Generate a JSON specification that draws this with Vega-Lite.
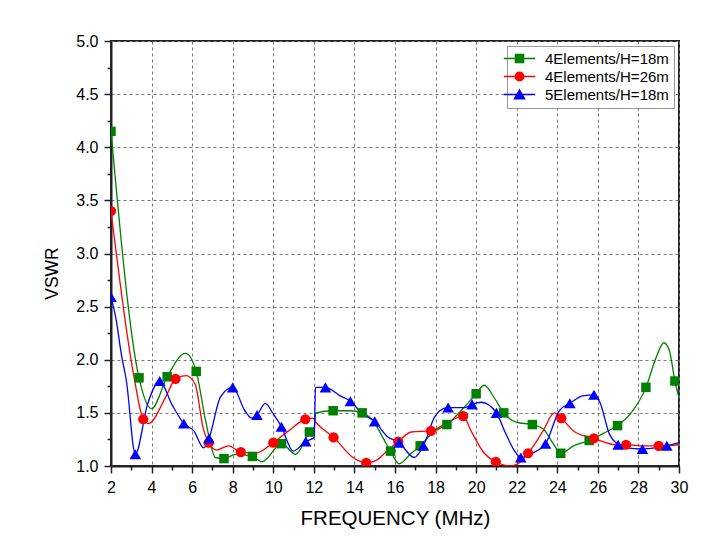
{
  "$schema": "https://vega.github.io/schema/vega-lite/v6.json",
  "width": 568,
  "height": 425,
  "autosize": {"type": "none"},
  "padding": {"left": 111, "top": 41, "right": 45, "bottom": 91},
  "data": {
    "values": [
      {"s": "4Elements/H=18m", "f": 2.0, "v": 4.15, "mk": 1},
      {"s": "4Elements/H=18m", "f": 3.38, "v": 1.83, "mk": 1},
      {"s": "4Elements/H=18m", "f": 4.0, "v": 1.54, "mk": 0},
      {"s": "4Elements/H=18m", "f": 4.77, "v": 1.84, "mk": 1},
      {"s": "4Elements/H=18m", "f": 5.67, "v": 2.06, "mk": 0},
      {"s": "4Elements/H=18m", "f": 6.2, "v": 1.89, "mk": 1},
      {"s": "4Elements/H=18m", "f": 6.66, "v": 1.43, "mk": 0},
      {"s": "4Elements/H=18m", "f": 7.15, "v": 1.08, "mk": 0},
      {"s": "4Elements/H=18m", "f": 7.57, "v": 1.07, "mk": 1},
      {"s": "4Elements/H=18m", "f": 8.15, "v": 1.11, "mk": 0},
      {"s": "4Elements/H=18m", "f": 8.97, "v": 1.09, "mk": 1},
      {"s": "4Elements/H=18m", "f": 9.45, "v": 1.04, "mk": 0},
      {"s": "4Elements/H=18m", "f": 10.41, "v": 1.21, "mk": 1},
      {"s": "4Elements/H=18m", "f": 11.1, "v": 1.11, "mk": 0},
      {"s": "4Elements/H=18m", "f": 11.78, "v": 1.32, "mk": 1},
      {"s": "4Elements/H=18m", "f": 12.02, "v": 1.37, "mk": 0},
      {"s": "4Elements/H=18m", "f": 12.1, "v": 1.5, "mk": 0},
      {"s": "4Elements/H=18m", "f": 12.95, "v": 1.52, "mk": 1},
      {"s": "4Elements/H=18m", "f": 13.8, "v": 1.52, "mk": 0},
      {"s": "4Elements/H=18m", "f": 14.38, "v": 1.5, "mk": 1},
      {"s": "4Elements/H=18m", "f": 14.9, "v": 1.43, "mk": 0},
      {"s": "4Elements/H=18m", "f": 15.45, "v": 1.25, "mk": 0},
      {"s": "4Elements/H=18m", "f": 15.78, "v": 1.14, "mk": 1},
      {"s": "4Elements/H=18m", "f": 16.2, "v": 1.02, "mk": 0},
      {"s": "4Elements/H=18m", "f": 16.8, "v": 1.12, "mk": 0},
      {"s": "4Elements/H=18m", "f": 17.24, "v": 1.19, "mk": 1},
      {"s": "4Elements/H=18m", "f": 17.9, "v": 1.32, "mk": 0},
      {"s": "4Elements/H=18m", "f": 18.56, "v": 1.39, "mk": 1},
      {"s": "4Elements/H=18m", "f": 19.4, "v": 1.55, "mk": 0},
      {"s": "4Elements/H=18m", "f": 20.0, "v": 1.68, "mk": 1},
      {"s": "4Elements/H=18m", "f": 20.4, "v": 1.76, "mk": 0},
      {"s": "4Elements/H=18m", "f": 20.9, "v": 1.64, "mk": 0},
      {"s": "4Elements/H=18m", "f": 21.36, "v": 1.5, "mk": 1},
      {"s": "4Elements/H=18m", "f": 22.0, "v": 1.41, "mk": 0},
      {"s": "4Elements/H=18m", "f": 22.77, "v": 1.39, "mk": 1},
      {"s": "4Elements/H=18m", "f": 23.3, "v": 1.35, "mk": 0},
      {"s": "4Elements/H=18m", "f": 23.8, "v": 1.21, "mk": 0},
      {"s": "4Elements/H=18m", "f": 24.17, "v": 1.12, "mk": 1},
      {"s": "4Elements/H=18m", "f": 24.8, "v": 1.19, "mk": 0},
      {"s": "4Elements/H=18m", "f": 25.57, "v": 1.24, "mk": 1},
      {"s": "4Elements/H=18m", "f": 26.4, "v": 1.32, "mk": 0},
      {"s": "4Elements/H=18m", "f": 26.97, "v": 1.38, "mk": 1},
      {"s": "4Elements/H=18m", "f": 27.6, "v": 1.49, "mk": 0},
      {"s": "4Elements/H=18m", "f": 28.37, "v": 1.74, "mk": 1},
      {"s": "4Elements/H=18m", "f": 28.87, "v": 2.02, "mk": 0},
      {"s": "4Elements/H=18m", "f": 29.25, "v": 2.16, "mk": 0},
      {"s": "4Elements/H=18m", "f": 29.52, "v": 2.09, "mk": 0},
      {"s": "4Elements/H=18m", "f": 29.8, "v": 1.8, "mk": 1},
      {"s": "4Elements/H=18m", "f": 30.0, "v": 1.64, "mk": 0},

      {"s": "4Elements/H=26m", "f": 2.0, "v": 3.4, "mk": 1},
      {"s": "4Elements/H=26m", "f": 3.15, "v": 1.82, "mk": 0},
      {"s": "4Elements/H=26m", "f": 3.59, "v": 1.44, "mk": 1},
      {"s": "4Elements/H=26m", "f": 3.85, "v": 1.4, "mk": 0},
      {"s": "4Elements/H=26m", "f": 4.7, "v": 1.65, "mk": 0},
      {"s": "4Elements/H=26m", "f": 5.18, "v": 1.82, "mk": 1},
      {"s": "4Elements/H=26m", "f": 5.7, "v": 1.85, "mk": 0},
      {"s": "4Elements/H=26m", "f": 6.15, "v": 1.77, "mk": 0},
      {"s": "4Elements/H=26m", "f": 6.55, "v": 1.35, "mk": 0},
      {"s": "4Elements/H=26m", "f": 6.82, "v": 1.22, "mk": 1},
      {"s": "4Elements/H=26m", "f": 7.2, "v": 1.15, "mk": 0},
      {"s": "4Elements/H=26m", "f": 7.8, "v": 1.19, "mk": 0},
      {"s": "4Elements/H=26m", "f": 8.4, "v": 1.13, "mk": 1},
      {"s": "4Elements/H=26m", "f": 9.1, "v": 1.12, "mk": 0},
      {"s": "4Elements/H=26m", "f": 10.0, "v": 1.22, "mk": 1},
      {"s": "4Elements/H=26m", "f": 10.75, "v": 1.33, "mk": 0},
      {"s": "4Elements/H=26m", "f": 11.58, "v": 1.44, "mk": 1},
      {"s": "4Elements/H=26m", "f": 11.95, "v": 1.45, "mk": 0},
      {"s": "4Elements/H=26m", "f": 12.15, "v": 1.4, "mk": 0},
      {"s": "4Elements/H=26m", "f": 12.97, "v": 1.27, "mk": 1},
      {"s": "4Elements/H=26m", "f": 14.0, "v": 1.07, "mk": 0},
      {"s": "4Elements/H=26m", "f": 14.58, "v": 1.03, "mk": 1},
      {"s": "4Elements/H=26m", "f": 15.05, "v": 1.05, "mk": 0},
      {"s": "4Elements/H=26m", "f": 15.6, "v": 1.14, "mk": 0},
      {"s": "4Elements/H=26m", "f": 16.16, "v": 1.23, "mk": 1},
      {"s": "4Elements/H=26m", "f": 16.8, "v": 1.32, "mk": 0},
      {"s": "4Elements/H=26m", "f": 17.77, "v": 1.33, "mk": 1},
      {"s": "4Elements/H=26m", "f": 18.5, "v": 1.4, "mk": 0},
      {"s": "4Elements/H=26m", "f": 19.36, "v": 1.47, "mk": 1},
      {"s": "4Elements/H=26m", "f": 19.75, "v": 1.33, "mk": 0},
      {"s": "4Elements/H=26m", "f": 20.4, "v": 1.12, "mk": 0},
      {"s": "4Elements/H=26m", "f": 20.97, "v": 1.04, "mk": 1},
      {"s": "4Elements/H=26m", "f": 21.7, "v": 1.0, "mk": 0},
      {"s": "4Elements/H=26m", "f": 22.05, "v": 1.02, "mk": 0},
      {"s": "4Elements/H=26m", "f": 22.56, "v": 1.12, "mk": 1},
      {"s": "4Elements/H=26m", "f": 23.3, "v": 1.33, "mk": 0},
      {"s": "4Elements/H=26m", "f": 23.85, "v": 1.5, "mk": 0},
      {"s": "4Elements/H=26m", "f": 24.2, "v": 1.45, "mk": 1},
      {"s": "4Elements/H=26m", "f": 24.8, "v": 1.33, "mk": 0},
      {"s": "4Elements/H=26m", "f": 25.8, "v": 1.26, "mk": 1},
      {"s": "4Elements/H=26m", "f": 26.9, "v": 1.2, "mk": 0},
      {"s": "4Elements/H=26m", "f": 27.39, "v": 1.2, "mk": 1},
      {"s": "4Elements/H=26m", "f": 28.3, "v": 1.19, "mk": 0},
      {"s": "4Elements/H=26m", "f": 29.0, "v": 1.19, "mk": 1},
      {"s": "4Elements/H=26m", "f": 30.0, "v": 1.2, "mk": 0},

      {"s": "5Elements/H=18m", "f": 2.0, "v": 2.59, "mk": 1},
      {"s": "5Elements/H=18m", "f": 2.26, "v": 2.37, "mk": 0},
      {"s": "5Elements/H=18m", "f": 2.51, "v": 2.05, "mk": 0},
      {"s": "5Elements/H=18m", "f": 2.76, "v": 1.8, "mk": 0},
      {"s": "5Elements/H=18m", "f": 3.2, "v": 1.11, "mk": 1},
      {"s": "5Elements/H=18m", "f": 3.8, "v": 1.58, "mk": 0},
      {"s": "5Elements/H=18m", "f": 4.4, "v": 1.8, "mk": 1},
      {"s": "5Elements/H=18m", "f": 5.0, "v": 1.58, "mk": 0},
      {"s": "5Elements/H=18m", "f": 5.59, "v": 1.4, "mk": 1},
      {"s": "5Elements/H=18m", "f": 6.08, "v": 1.33, "mk": 0},
      {"s": "5Elements/H=18m", "f": 6.57, "v": 1.17, "mk": 0},
      {"s": "5Elements/H=18m", "f": 6.83, "v": 1.26, "mk": 1},
      {"s": "5Elements/H=18m", "f": 7.4, "v": 1.65, "mk": 0},
      {"s": "5Elements/H=18m", "f": 8.0, "v": 1.74, "mk": 1},
      {"s": "5Elements/H=18m", "f": 8.6, "v": 1.52, "mk": 0},
      {"s": "5Elements/H=18m", "f": 8.95, "v": 1.45, "mk": 0},
      {"s": "5Elements/H=18m", "f": 9.2, "v": 1.48, "mk": 1},
      {"s": "5Elements/H=18m", "f": 9.6, "v": 1.59, "mk": 0},
      {"s": "5Elements/H=18m", "f": 10.0, "v": 1.49, "mk": 0},
      {"s": "5Elements/H=18m", "f": 10.4, "v": 1.37, "mk": 1},
      {"s": "5Elements/H=18m", "f": 10.98, "v": 1.14, "mk": 0},
      {"s": "5Elements/H=18m", "f": 11.6, "v": 1.23, "mk": 1},
      {"s": "5Elements/H=18m", "f": 12.02, "v": 1.27, "mk": 0},
      {"s": "5Elements/H=18m", "f": 12.08, "v": 1.74, "mk": 0},
      {"s": "5Elements/H=18m", "f": 12.57, "v": 1.74, "mk": 1},
      {"s": "5Elements/H=18m", "f": 13.3, "v": 1.66, "mk": 0},
      {"s": "5Elements/H=18m", "f": 13.8, "v": 1.61, "mk": 1},
      {"s": "5Elements/H=18m", "f": 14.4, "v": 1.49, "mk": 0},
      {"s": "5Elements/H=18m", "f": 15.0, "v": 1.42, "mk": 1},
      {"s": "5Elements/H=18m", "f": 15.6, "v": 1.28, "mk": 0},
      {"s": "5Elements/H=18m", "f": 16.2, "v": 1.22, "mk": 1},
      {"s": "5Elements/H=18m", "f": 16.95, "v": 1.08, "mk": 0},
      {"s": "5Elements/H=18m", "f": 17.4, "v": 1.19, "mk": 1},
      {"s": "5Elements/H=18m", "f": 17.95, "v": 1.46, "mk": 0},
      {"s": "5Elements/H=18m", "f": 18.2, "v": 1.52, "mk": 0},
      {"s": "5Elements/H=18m", "f": 18.62, "v": 1.55, "mk": 1},
      {"s": "5Elements/H=18m", "f": 19.45, "v": 1.55, "mk": 0},
      {"s": "5Elements/H=18m", "f": 19.8, "v": 1.58, "mk": 1},
      {"s": "5Elements/H=18m", "f": 20.25, "v": 1.6, "mk": 0},
      {"s": "5Elements/H=18m", "f": 21.0, "v": 1.5, "mk": 1},
      {"s": "5Elements/H=18m", "f": 21.4, "v": 1.33, "mk": 0},
      {"s": "5Elements/H=18m", "f": 21.87, "v": 1.15, "mk": 0},
      {"s": "5Elements/H=18m", "f": 22.2, "v": 1.08, "mk": 1},
      {"s": "5Elements/H=18m", "f": 22.75, "v": 1.12, "mk": 0},
      {"s": "5Elements/H=18m", "f": 23.42, "v": 1.21, "mk": 1},
      {"s": "5Elements/H=18m", "f": 24.1, "v": 1.52, "mk": 0},
      {"s": "5Elements/H=18m", "f": 24.62, "v": 1.59, "mk": 1},
      {"s": "5Elements/H=18m", "f": 25.25, "v": 1.66, "mk": 0},
      {"s": "5Elements/H=18m", "f": 25.81, "v": 1.67, "mk": 1},
      {"s": "5Elements/H=18m", "f": 26.1, "v": 1.6, "mk": 0},
      {"s": "5Elements/H=18m", "f": 26.57, "v": 1.3, "mk": 0},
      {"s": "5Elements/H=18m", "f": 27.0, "v": 1.2, "mk": 1},
      {"s": "5Elements/H=18m", "f": 27.4, "v": 1.17, "mk": 0},
      {"s": "5Elements/H=18m", "f": 28.2, "v": 1.16, "mk": 1},
      {"s": "5Elements/H=18m", "f": 28.8, "v": 1.17, "mk": 0},
      {"s": "5Elements/H=18m", "f": 29.4, "v": 1.19, "mk": 1},
      {"s": "5Elements/H=18m", "f": 30.0, "v": 1.22, "mk": 0}
    ]
  },
  "encoding": {
    "x": {
      "field": "f",
      "type": "quantitative",
      "scale": {"domain": [2, 30], "nice": false},
      "axis": {
        "title": "FREQUENCY (MHz)",
        "values": [2, 3, 4, 5, 6, 7, 8, 9, 10, 11, 12, 13, 14, 15, 16, 17, 18, 19, 20, 21, 22, 23, 24, 25, 26, 27, 28, 29, 30],
        "format": "d",
        "labelExpr": "datum.value % 2 === 0 ? datum.label : ''",
        "tickSize": {"condition": {"test": "datum.value % 2 !== 0", "value": 4}, "value": 7},
        "gridOpacity": {"condition": {"test": "datum.value % 2 !== 0", "value": 0}, "value": 1},
        "labelPadding": 6,
        "titlePadding": 13,
        "titleFontSize": 20.5
      }
    },
    "y": {
      "field": "v",
      "type": "quantitative",
      "scale": {"domain": [1, 5], "nice": false},
      "axis": {
        "title": "VSWR",
        "values": [1, 1.25, 1.5, 1.75, 2, 2.25, 2.5, 2.75, 3, 3.25, 3.5, 3.75, 4, 4.25, 4.5, 4.75, 5],
        "format": ".1f",
        "labelExpr": "datum.value % 0.5 === 0 ? datum.label : ''",
        "tickSize": {"condition": {"test": "datum.value % 0.5 !== 0", "value": 4}, "value": 7},
        "gridOpacity": {"condition": {"test": "datum.value % 0.5 !== 0", "value": 0}, "value": 1},
        "labelPadding": 6,
        "titlePadding": 14,
        "titleFontSize": 17.5,
        "titleY": 232
      }
    },
    "color": {
      "field": "s",
      "type": "nominal",
      "scale": {"range": ["#008000", "#ff0000", "#0000ff"]},
      "legend": null
    }
  },
  "layer": [
    {
      "mark": {"type": "line", "interpolate": "monotone", "strokeWidth": 1.3, "clip": true}
    },
    {
      "transform": [{"filter": "datum.mk == 1 && datum.s == '4Elements/H=18m'"}],
      "mark": {"type": "point", "filled": true, "opacity": 1, "shape": "square", "size": 90, "clip": true}
    },
    {
      "transform": [{"filter": "datum.mk == 1 && datum.s == '4Elements/H=26m'"}],
      "mark": {"type": "point", "filled": true, "opacity": 1, "shape": "circle", "size": 105, "clip": true}
    },
    {
      "transform": [{"filter": "datum.mk == 1 && datum.s == '5Elements/H=18m'"}],
      "mark": {"type": "point", "filled": true, "opacity": 1, "shape": "triangle-up", "size": 135, "clip": true}
    },
    {
      "transform": [{"filter": "datum.mk > 1"}],
      "mark": {"type": "point", "filled": true, "opacity": 1},
      "encoding": {
        "color": null,
        "fill": {
          "field": "s",
          "type": "nominal",
          "scale": {
            "domain": ["4Elements/H=18m", "4Elements/H=26m", "5Elements/H=18m"],
            "range": ["#008000", "#ff0000", "#0000ff"]
          },
          "legend": {"title": null, "orient": "top-right", "offset": 5}
        },
        "stroke": {
          "field": "s",
          "type": "nominal",
          "scale": {
            "domain": ["4Elements/H=18m", "4Elements/H=26m", "5Elements/H=18m"],
            "range": ["#008000", "#ff0000", "#0000ff"]
          },
          "legend": {"title": null, "orient": "top-right", "offset": 5}
        },
        "shape": {
          "field": "s",
          "type": "nominal",
          "scale": {
            "domain": ["4Elements/H=18m", "4Elements/H=26m", "5Elements/H=18m"],
            "range": [
              "M-3.5,0H3.5M-0.9,-0.9H0.9V0.9H-0.9Z",
              "M-3.5,0H3.5M0.95,0A0.95,0.95,0,1,0,-0.95,0A0.95,0.95,0,1,0,0.95,0Z",
              "M-3.5,0H3.5M0,-1.0L1.12,0.95H-1.12Z"
            ]
          },
          "legend": {"title": null, "orient": "top-right", "offset": 5}
        }
      }
    }
  ],
  "config": {
    "font": "Liberation Sans",
    "view": {"stroke": "#222", "strokeWidth": 2},
    "axis": {
      "labelFont": "Liberation Sans",
      "titleFont": "Liberation Sans",
      "labelFontSize": 16,
      "labelColor": "#000",
      "titleColor": "#000",
      "titleFontWeight": "normal",
      "domainColor": "#222",
      "domainWidth": 2,
      "tickColor": "#222",
      "tickWidth": 1.5,
      "gridColor": "#777",
      "gridDash": [3, 3],
      "gridWidth": 1,
      "labelOverlap": false,
      "labelFlush": false
    },
    "legend": {
      "labelFont": "Liberation Sans",
      "labelFontSize": 15,
      "labelColor": "#000",
      "symbolSize": 81,
      "symbolStrokeWidth": 1.5,
      "symbolOpacity": 1,
      "strokeColor": "#999",
      "fillColor": "#fff",
      "padding": 5,
      "rowPadding": 2,
      "labelOffset": 18
    }
  }
}
